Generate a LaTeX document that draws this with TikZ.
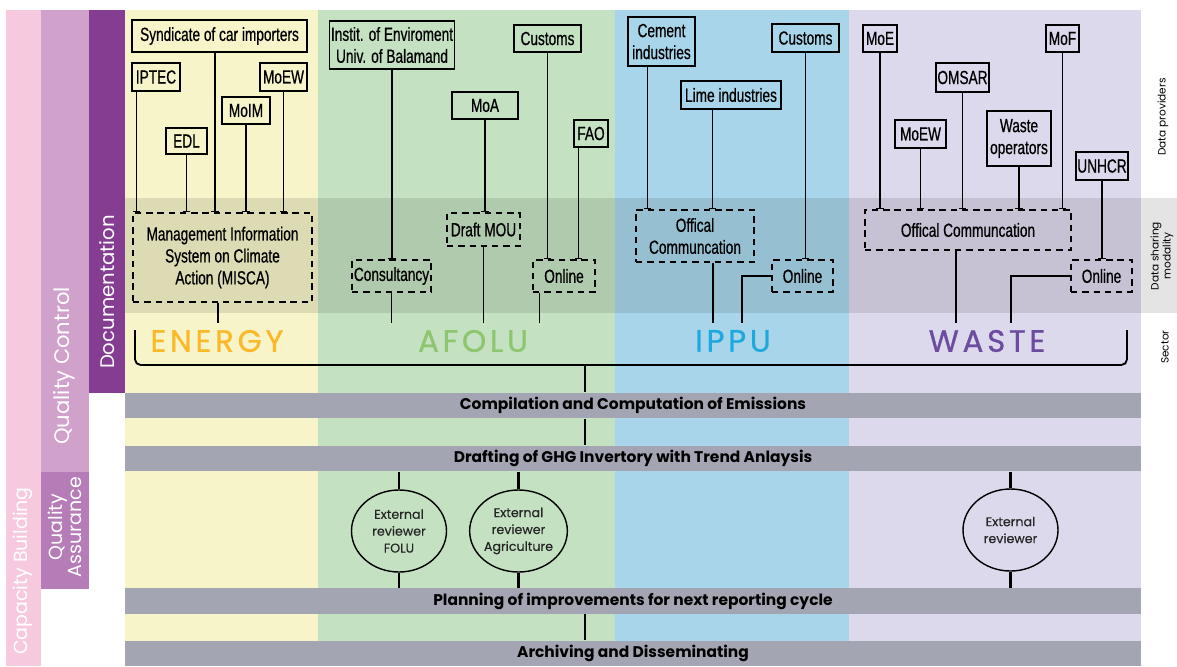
\documentclass[tikz,border=0pt]{standalone}
\usepackage{fontspec}
\setmainfont{Poppins}
\newfontfamily\boxfont{Liberation Sans}[FakeStretch=0.72, FakeBold=0.6]
\usetikzlibrary{shapes.geometric,arrows.meta,calc}
\newlength\pu
\setlength\pu{0.025cm}
\definecolor{energybg}{HTML}{F6F4C8}
\definecolor{afolubg}{HTML}{C4E1C2}
\definecolor{ippubg}{HTML}{A8D5EA}
\definecolor{wastebg}{HTML}{DDD9EC}
\definecolor{stagegray}{HTML}{A3A6B2}
\definecolor{cbpink}{HTML}{F6C9DF}
\definecolor{qcpurple}{HTML}{D0A1CA}
\definecolor{qapurple}{HTML}{B57CB8}
\definecolor{docpurple}{HTML}{853D92}
\definecolor{energytxt}{HTML}{FBB829}
\definecolor{afolutxt}{HTML}{8DC66F}
\definecolor{ipputxt}{HTML}{1DA8DF}
\definecolor{wastetxt}{HTML}{6B4C9E}
\definecolor{bandgray}{HTML}{E4E4E4}
\begin{document}
\begin{tikzpicture}[x=0.025cm, y=-0.025cm,
    prov/.style={draw, line width=0.9pt, inner sep=1pt, align=center,
      font=\boxfont\fontsize{13.5}{15.6}\selectfont},
    mode/.style={prov, dash pattern=on 4.5pt off 3.5pt},
    sz/.style 2 args={minimum width=#1\pu, minimum height=#2\pu},
    link/.style={line width=0.8pt, -{Bar[width=5pt, line width=0.8pt]}},
    stub/.style={line width=0.8pt},
    stem/.style={line width=2.1pt},
    stage/.style={fill=stagegray, inner sep=0pt, minimum width=1016\pu,
      minimum height=25.5\pu, font=\bfseries\fontsize{11}{12}\selectfont},
    review/.style={draw, ellipse, line width=1pt, inner sep=0pt, sz={95}{82},
      align=center, text=black!85,
      font=\fontsize{9}{12}\selectfont\addfontfeature{FakeBold=0.4}},
    sector/.style={font=\fontsize{22}{24}\selectfont\addfontfeature{LetterSpace=12, FakeBold=0.8}},
    sidebar/.style={rotate=90, text=white, align=center},
    rowlabel/.style={rotate=90, align=center, font=\fontsize{7.5}{8.5}\selectfont}]
  \useasboundingbox (0,0) rectangle (1177,666);
  % sector columns
  \fill[energybg] (125,10) rectangle (318,666);
  \fill[afolubg] (318,10) rectangle (615,666);
  \fill[ippubg] (615,10) rectangle (849,666);
  \fill[wastebg] (849,10) rectangle (1141,666);
  \fill[black, opacity=0.1] (125,198) rectangle (1141,313);
  \fill[bandgray] (1141,198) rectangle (1177,313);
  % side bars
  \fill[cbpink] (6,10) rectangle (41,666);
  \fill[qcpurple] (41,10) rectangle (89,472);
  \fill[qapurple] (41,472) rectangle (89,589);
  \fill[docpurple] (89,10) rectangle (125,393);
  \node[sidebar, font=\fontsize{13.5}{15}\selectfont] (cb) at (23,571) {Capacity Building};
  \node[sidebar, font=\fontsize{15}{17}\selectfont] (qc) at (64,366) {Quality Control};
  \node[sidebar, font=\fontsize{13.5}{13}\selectfont] (qa) at (65,527) {Quality\\Assurance};
  \node[sidebar, font=\fontsize{14}{16}\selectfont] (doc) at (107,292) {Documentation};
  \node[rowlabel] (rprov) at (1163,117) {Data providers};
  \node[rowlabel] (rmod) at (1162,256) {Data sharing\\modality};
  \node[rowlabel] (rsec) at (1165,347) {Sector};

  % ENERGY
  \node[prov, sz={175}{32}] (synd) at (219.5,36) {Syndicate of car importers};
  \node[prov, sz={48}{28}] (iptec) at (156,77) {IPTEC};
  \node[prov, sz={41}{26}] (edl) at (186.5,141) {EDL};
  \node[prov, sz={48}{27}] (moim) at (246,110.5) {MoIM};
  \node[prov, sz={47}{28}] (moewe) at (283.5,77) {MoEW};
  \node[mode, sz={179}{89}] (misca) at (222.5,257.5) {Management Information\\System on Climate\\Action (MISCA)};
  % AFOLU
  \node[prov, sz={124}{48}] (instit) at (392,45) {Instit. of Enviroment\\Univ. of Balamand};
  \node[prov, sz={67}{27}] (custa) at (547.5,38.5) {Customs};
  \node[prov, sz={66}{27}] (moa) at (485,105.5) {MoA};
  \node[prov, sz={34}{27}] (fao) at (591,133.5) {FAO};
  \node[mode, sz={73}{33}] (mou) at (483.5,229.5) {Draft MOU};
  \node[mode, sz={79}{32}] (consult) at (391.5,276) {Consultancy};
  \node[mode, sz={62}{32}] (onla) at (564,276) {Online};
  % IPPU
  \node[prov, sz={67}{49}] (cement) at (661.5,41.5) {Cement\\industries};
  \node[prov, sz={100}{28}] (lime) at (731,95) {Lime industries};
  \node[prov, sz={67}{28}] (custi) at (805.5,38) {Customs};
  \node[mode, sz={118}{52}] (offci) at (695,236) {Offical\\Communcation};
  \node[mode, sz={61}{32}] (onli) at (802.5,276) {Online};
  % WASTE
  \node[prov, sz={34}{27}] (moe) at (880,38.5) {MoE};
  \node[prov, sz={33}{27}] (mof) at (1062.5,38.5) {MoF};
  \node[prov, sz={51}{29}] (omsar) at (962.5,77.5) {OMSAR};
  \node[prov, sz={51}{28}] (moeww) at (920.5,134) {MoEW};
  \node[prov, sz={64}{55}] (wops) at (1019,138.5) {Waste\\operators};
  \node[prov, sz={50}{28}] (unhcr) at (1102,166) {UNHCR};
  \node[mode, sz={206}{40}] (offcw) at (968,230) {Offical Communcation};
  \node[mode, sz={61}{32}] (onlw) at (1101.5,276) {Online};

  % providers to modality
  \coordinate (iptecx) at ($(iptec.south west)+(5,0)$);
  \coordinate (syndx) at ($(synd.south)+(-4.5,0)$);
  \coordinate (faox) at ($(fao.south west)+(5,0)$);
  \coordinate (cementx) at ($(cement.south west)+(20,0)$);
  \coordinate (limex) at ($(lime.south west)+(32,0)$);
  \draw[link] (iptecx) -- (iptecx |- misca.north);
  \draw[link] (edl) -- (edl |- misca.north);
  \draw[link] (syndx) -- (syndx |- misca.north);
  \draw[link] (moim) -- (moim |- misca.north);
  \draw[link] (moewe) -- (moewe |- misca.north);
  \draw[link] (instit) -- (instit |- consult.north);
  \draw[link] (moa) -- (moa |- mou.north);
  \draw[link] (custa) -- (custa |- onla.north);
  \draw[link] (faox) -- (faox |- onla.north);
  \draw[link] (cementx) -- (cementx |- offci.north);
  \draw[link] (limex) -- (limex |- offci.north);
  \draw[link] (custi) -- (custi |- onli.north);
  \draw[link] (moe) -- (moe |- offcw.north);
  \draw[link] (moeww) -- (moeww |- offcw.north);
  \draw[link] (omsar) -- (omsar |- offcw.north);
  \draw[link] (wops) -- (wops |- offcw.north);
  \draw[link] (mof) -- (mof |- offcw.north);
  \draw[link] (unhcr) -- (unhcr |- onlw.north);

  % modality to sector
  \coordinate (sec) at (0,323);
  \coordinate (miscax) at ($(misca.south)+(-4.5,0)$);
  \coordinate (onlax) at ($(onla.south west)+(7,0)$);
  \coordinate (offcix) at ($(offci.south)+(18,0)$);
  \coordinate (offcwx) at ($(offcw.south)+(-12,0)$);
  \coordinate (ippux) at (742,323);
  \coordinate (wastex) at (1011,323);
  \draw[stub] (miscax) -- (miscax |- sec);
  \draw[stub] (consult) -- (consult |- sec);
  \draw[stub] (mou) -- (mou |- sec);
  \draw[stub] (onlax) -- (onlax |- sec);
  \draw[stub] (offcix) -- (offcix |- sec);
  \draw[stub] (onli.west) -| (ippux);
  \draw[stub] (offcwx) -- (offcwx |- sec);
  \draw[stub] (onlw.west) -| (wastex);

  % sectors
  \node[sector, text=energytxt] (energy) at (217,341) {ENERGY};
  \node[sector, text=afolutxt] (afolu) at (473,341) {AFOLU};
  \node[sector, text=ipputxt] (ippu) at (733,341) {IPPU};
  \node[sector, text=wastetxt] (waste) at (987,341) {WASTE};
  \draw[line width=1.3pt, rounded corners=4pt] (135,330) -- (135,365) -- (1127,365) -- (1127,330);
  \coordinate (brk) at (585,365);

  % process stages
  \node[stage] (comp) at (633,405.5) {Compilation and Computation of Emissions};
  \node[stage] (draft) at (633,458.5) {Drafting of GHG Invertory with Trend Anlaysis};
  \node[stage] (plan) at (633,601) {Planning of improvements for next reporting cycle};
  \node[stage] (arch) at (633,653.5) {Archiving and Disseminating};
  \draw[stem] (brk) -- (brk |- comp.north);
  \draw[stem] (comp.south -| brk) -- (draft.north -| brk);
  \draw[stem] (plan.south -| brk) -- (arch.north -| brk);

  % external review
  \node[review] (revf) at (399,531) {External\\reviewer\\FOLU};
  \node[review] (reva) at (518.5,531) {External\\reviewer\\Agriculture};
  \node[review] (revw) at (1010.5,530) {External\\reviewer};
  \foreach \r in {revf,reva,revw}{
    \draw[stem] (\r.north) -- (\r.north |- draft.south);
    \draw[stem] (\r.south) -- (\r.south |- plan.north);
  }
\end{tikzpicture}
\end{document}
